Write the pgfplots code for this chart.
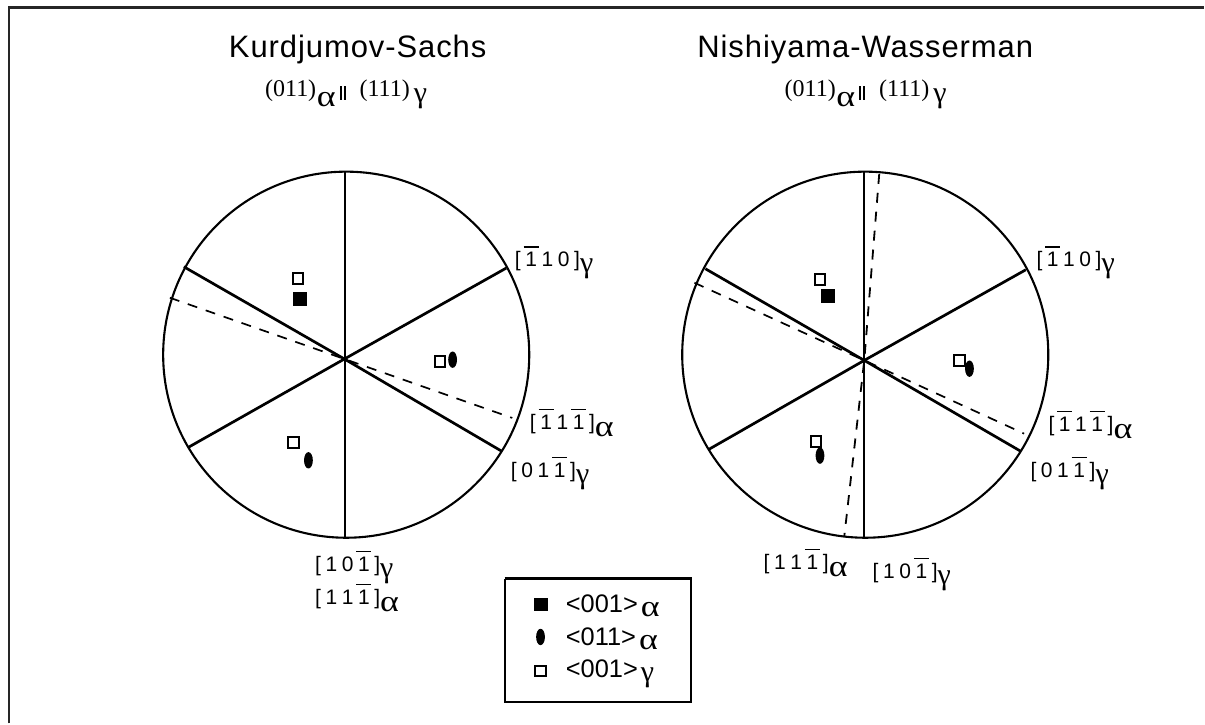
\documentclass[border=0pt]{standalone}
\usepackage{pgfplots}
\pgfplotsset{compat=1.18}
\usepackage{fontspec}
\setmainfont{Liberation Sans}
\newfontfamily\serifa{Liberation Serif}
\newcommand{\ttl}[1]{{\fontsize{15.5}{18}\selectfont\addfontfeature{LetterSpace=3}#1}}
\newcommand{\ol}{{\rlap{\kern-0.9pt\rule[9.6pt]{7.6pt}{0.75pt}}1}}
\newcommand{\gp}{\kern2.3pt}
\newcommand{\sa}[1]{\raisebox{#1}{\scalebox{1.2}[1]{\serifa\fontsize{15}{15}\selectfont α}}}
\newcommand{\sg}[1]{\raisebox{#1}{\serifa\fontsize{15}{15}\selectfont γ}}
\newcommand{\lab}[4]{{\fontsize{10.5}{12}\selectfont [\gp#1\gp#2\gp#3\gp]#4}}
\newcommand{\dbar}{\rule[-1.5pt]{1pt}{6.8pt}\kern1pt\rule[-1.5pt]{1pt}{6.8pt}}
\newcommand{\subt}{{\serifa\fontsize{12}{13}\selectfont (011)\kern0.3pt\sa{-5pt}\kern2pt\dbar\kern7pt(111)\kern2pt\sg{-3pt}}}
\newcommand{\legt}[2]{{\fontsize{12.7}{14}\selectfont <#1>\kern1.5pt#2}}
\pgfdeclareplotmark{ell}{\pgfpathellipse{\pgfpointorigin}{\pgfqpoint{2.2pt}{0pt}}{\pgfqpoint{0pt}{4.1pt}}\pgfusepathqfill}
\begin{document}
\begin{tikzpicture}[every node/.style={inner sep=0pt}]
\begin{axis}[
  scale only axis, width=602.5pt, height=362pt,
  xmin=0, xmax=1205, ymin=0, ymax=724, y dir=reverse,
  hide axis, clip=false,
  every axis plot/.append style={black},
]
\path (axis cs:0,0) rectangle (axis cs:1205,724);
% frame
\addplot[gray!30!black, line width=1.05pt] coordinates {(9,724) (9,7.5) (1205,7.5)};
% left spokes
\addplot[line width=1.05pt] coordinates {(345,172) (345,538)};
\addplot[line width=1.35pt] coordinates {(506.7,268.3) (344.7,359.3) (188,448)};
\addplot[line width=1.35pt] coordinates {(184,267) (344.7,359.3) (502.3,451.7)};
\addplot[line width=0.85pt, dash pattern=on 5pt off 4.5pt] coordinates {(170,298) (344.7,359.3) (512.7,418.3)};
% right spokes
\addplot[line width=1.05pt] coordinates {(865,172) (865,538)};
\addplot[line width=1.35pt] coordinates {(1026.7,270) (865,360.7) (709,450)};
\addplot[line width=1.35pt] coordinates {(706,269) (865,360.7) (1021.7,451.7)};
\addplot[line width=0.85pt, dash pattern=on 5pt off 4.5pt] coordinates {(695,283) (865,360.7) (1025,434)};
\addplot[line width=0.9pt, dash pattern=on 5pt off 4.5pt] coordinates {(880,174) (865,360.7) (845,537)};
% circles
\draw[line width=1.05pt] (axis cs:346.5,355) circle [radius=91.6pt];
\draw[line width=1.05pt] (axis cs:866,355) circle [radius=91.6pt];
% markers
\addplot[only marks, mark=square, mark size=2.7pt, mark options={line width=1pt}] coordinates {(298.3,279) (440.3,361.7) (294,442.7) (820.7,280) (960.3,360.7) (816.7,441.7) (541,671.5)};
\addplot[only marks, mark=square*, mark size=3.2pt] coordinates {(300.3,299.3) (829,296) (541,605)};
\addplot[only marks, mark=ell] coordinates {(453,360) (308.7,460.7) (970.3,369) (820.7,456) (541,637.5)};
% titles
\node at (axis cs:358,50) {\ttl{Kurdjumov-Sachs}};
\node at (axis cs:866,50) {\ttl{Nishiyama-Wasserman}};
\node[anchor=base west] at (axis cs:265,97) {\subt};
\node[anchor=base west] at (axis cs:785,97) {\subt};
% labels left
\node[anchor=base west] at (axis cs:515,267) {\lab{\ol}{1}{0}{\sg{-3pt}}};
\node[anchor=base west] at (axis cs:530,430) {\lab{\ol}{1}{\ol}{\sa{-3.5pt}}};
\node[anchor=base west] at (axis cs:511,478) {\lab{0}{1}{\ol}{\sg{-3pt}}};
\node[anchor=base west] at (axis cs:315,572) {\lab{1}{0}{\ol}{\sg{-3pt}}};
\node[anchor=base west] at (axis cs:315,605) {\lab{1}{1}{\ol}{\sa{-3.5pt}}};
% labels right
\node[anchor=base west] at (axis cs:1037,267) {\lab{\ol}{1}{0}{\sg{-3pt}}};
\node[anchor=base west] at (axis cs:1049,432) {\lab{\ol}{1}{\ol}{\sa{-3.5pt}}};
\node[anchor=base west] at (axis cs:1031,478) {\lab{0}{1}{\ol}{\sg{-3pt}}};
\node[anchor=base west] at (axis cs:764,570) {\lab{1}{1}{\ol}{\sa{-3.5pt}}};
\node[anchor=base west] at (axis cs:873,579) {\lab{1}{0}{\ol}{\sg{-3pt}}};
% legend
\addplot[line width=1.05pt] coordinates {(505,579) (691.7,579) (691.7,703) (505,703) (505,579)};
\node[anchor=base west] at (axis cs:566,613) {\legt{001}{\sa{-2pt}}};
\node[anchor=base west] at (axis cs:566,645.7) {\legt{011}{\sa{-2pt}}};
\node[anchor=base west] at (axis cs:566,678.3) {\legt{001}{\sg{-2pt}}};
\end{axis}
\end{tikzpicture}
\end{document}
